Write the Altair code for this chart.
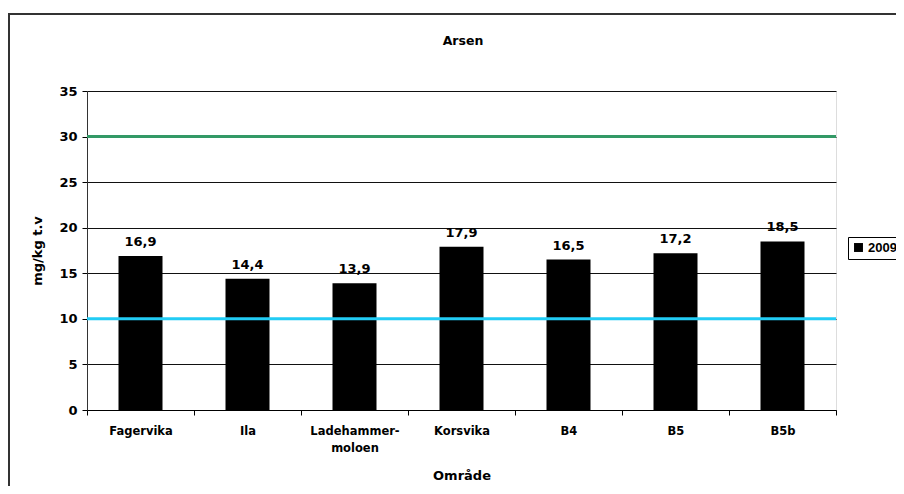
import altair as alt
import pandas as pd

categories = ["Fagervika", "Ila", "Ladehammer-moloen", "Korsvika", "B4", "B5", "B5b"]
values = [16.9, 14.4, 13.9, 17.9, 16.5, 17.2, 18.5]
labels = ["16,9", "14,4", "13,9", "17,9", "16,5", "17,2", "18,5"]
series = "2009"
limit_values = [30, 10]
limit_colors = ["#339966", "#22CCF5"]
y_ticks = [0, 5, 10, 15, 20, 25, 30, 35]
chart_title = "Arsen"

FONT = "DejaVu Sans"

df = pd.DataFrame({"Område": categories, "value": values, "label": labels, "year": [series] * len(categories)})
lim = pd.DataFrame({"y": limit_values, "c": limit_colors})
frame_df = pd.DataFrame({"t": [chart_title]})

x_enc = alt.X(
    "Område:N",
    sort=categories,
    scale=alt.Scale(paddingInner=0, paddingOuter=0),
    axis=alt.Axis(
        title="Område",
        labelAngle=0,
        tickBand="extent",
        tickSize=5,
        tickColor="#000",
        domainColor="#000",
        labelFont=FONT,
        labelFontSize=11.5,
        labelFontWeight="bold",
        labelColor="#000",
        labelPadding=10,
        labelLineHeight=17,
        labelExpr="datum.value == 'Ladehammer-moloen' ? ['Ladehammer-', 'moloen'] : datum.value",
        titleFont=FONT,
        titleFontSize=13,
        titleFontWeight="bold",
        titleColor="#000",
        titlePadding=16,
        grid=False,
    ),
)

y_scale = alt.Scale(domain=[0, 35], nice=False)

bars = alt.Chart(df).mark_bar(width=alt.RelativeBandSize(44 / 107)).encode(
    x=x_enc,
    y=alt.Y(
        "value:Q",
        scale=y_scale,
        axis=alt.Axis(
            title="mg/kg t.v",
            values=y_ticks,
            tickSize=5,
            tickColor="#000",
            domainColor="#333",
            gridColor="#111",
            gridWidth=1,
            labelFont=FONT,
            labelFontSize=13,
            labelFontWeight="bold",
            labelColor="#000",
            labelPadding=5,
            titleFont=FONT,
            titleFontSize=13,
            titleFontWeight="bold",
            titleColor="#000",
            titlePadding=14,
        ),
    ),
    color=alt.Color(
        "year:N",
        scale=alt.Scale(range=["#000000"]),
        legend=alt.Legend(
            title=None,
            orient="none",
            legendX=761,
            legendY=146,
            strokeColor="#000",
            fillColor="#fff",
            padding=4,
            labelOffset=3,
            symbolType="square",
            symbolSize=80,
            symbolStrokeWidth=0,
            labelFont="Liberation Sans",
            labelFontSize=13,
            labelFontWeight="bold",
            labelColor="#000",
        ),
    ),
)

text = alt.Chart(df).mark_text(
    baseline="alphabetic", dy=-10, font=FONT, fontSize=13, fontWeight="bold", color="#000"
).encode(x=alt.X("Område:N", sort=categories), y=alt.Y("value:Q", scale=y_scale), text="label:N")

rules = alt.Chart(lim).mark_rule(strokeWidth=3).encode(
    y=alt.Y("y:Q", scale=y_scale),
    color=alt.Color("c:N", scale=None, legend=None),
)

frame = alt.Chart(frame_df).mark_rect(filled=False, stroke="#333", strokeWidth=2).encode(
    x=alt.value(-78), x2=alt.value(900), y=alt.value(-77), y2=alt.value(600)
)

title = alt.Chart(frame_df).mark_text(
    font=FONT, fontSize=12.5, fontWeight="bold", color="#000", baseline="middle", align="center"
).encode(x=alt.value(376), y=alt.value(-50), text="t:N")

chart = (
    alt.layer(frame, title, bars, rules, text)
    .properties(
        width=749,
        height=319,
        autosize=alt.AutoSizeParams(type="none"),
        padding={"left": 79, "top": 83, "right": 60, "bottom": 76},
    )
    .configure_view(stroke="#888", strokeWidth=1)
    .configure(background="#fff")
)

chart.save("out.html", embed_options={"renderer": "svg", "actions": False})
